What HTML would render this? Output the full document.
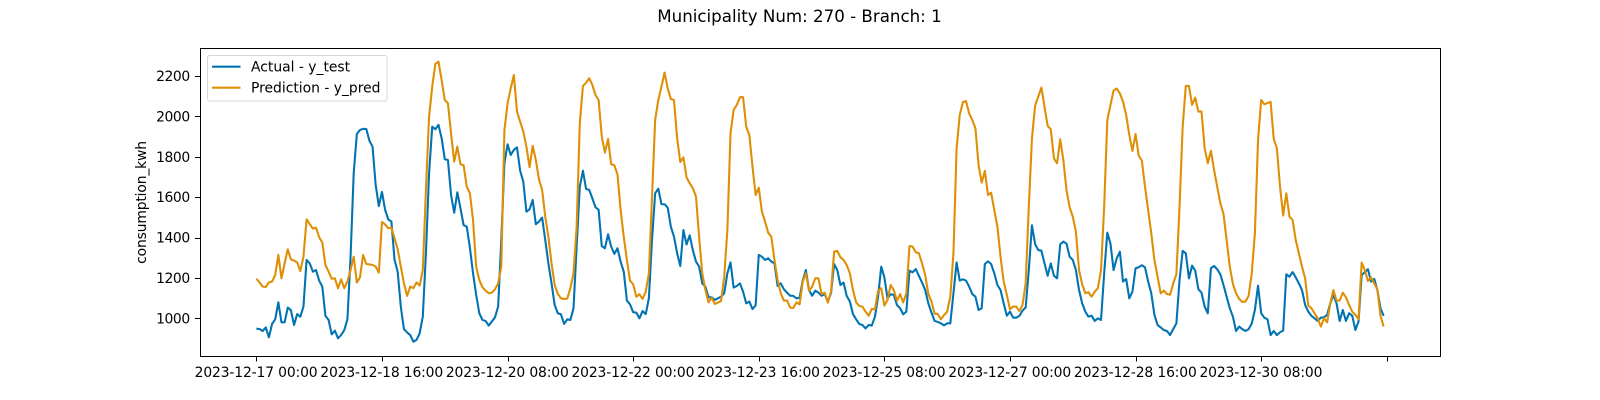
<!DOCTYPE html>
<html lang="en">
<head>
<meta charset="utf-8">
<title>Municipality Num: 270 - Branch: 1</title>
<style>
html,body{margin:0;padding:0;background:#fff;width:1600px;height:400px;overflow:hidden}
svg{display:block}
text{font-family:"DejaVu Sans","Liberation Sans",sans-serif;fill:#000}
</style>
</head>
<body>
<svg id="chart" xmlns="http://www.w3.org/2000/svg" width="1600" height="400" viewBox="0 0 1600 400">
  <rect x="0" y="0" width="1600" height="400" fill="#fff"/>
  <text x="799.5" y="22" font-size="16.67" text-anchor="middle">Municipality Num: 270 - Branch: 1</text>
  <g id="series-layer"></g>
  <rect x="200.5" y="48.5" width="1240" height="308" fill="none" stroke="#000" stroke-width="1" shape-rendering="crispEdges"/>
  <g id="x-axis"></g>
  <g id="y-axis"></g>
  <text x="0" y="0" font-size="13.89" letter-spacing="-0.15" text-anchor="middle" transform="translate(146 202.5) rotate(-90)">consumption_kwh</text>
  <g>
    <rect x="207.5" y="55.5" width="179.5" height="45.5" rx="2.5" ry="2.5" fill="#fff" fill-opacity="0.8" stroke="#ccc" stroke-opacity="0.8" stroke-width="1"/>
    <line x1="212" y1="66.7" x2="240.5" y2="66.7" stroke="#0173b2" stroke-width="2.08"/>
    <text x="251" y="71.5" font-size="13.89">Actual - y_test</text>
    <line x1="212" y1="87.7" x2="240.5" y2="87.7" stroke="#de8f05" stroke-width="2.08"/>
    <text x="251" y="92.5" font-size="13.89">Prediction - y_pred</text>
  </g>
</svg>
<script>
const actualValues = [
949,947,937,955,906,972,995,1079,980,980,
1053,1040,967,1021,1008,1058,1289,1272,1231,1239,
1187,1157,1012,992,921,939,901,917,942,995,
1305,1718,1913,1933,1938,1938,1880,1850,1660,1556,
1626,1537,1490,1479,1290,1231,1058,946,930,917,
884,893,926,1008,1322,1718,1949,1936,1958,1892,
1788,1784,1611,1523,1624,1545,1462,1454,1350,1223,
1116,1025,992,987,964,984,1005,1058,1388,1768,
1862,1809,1834,1847,1731,1677,1528,1540,1586,1466,
1479,1499,1388,1272,1173,1066,1025,1020,972,995,
992,1050,1355,1652,1731,1641,1636,1594,1550,1537,
1358,1347,1416,1355,1319,1347,1281,1231,1088,1069,
1030,1028,1000,1036,1021,1099,1388,1619,1642,1565,
1565,1548,1454,1404,1322,1259,1437,1366,1411,1338,
1281,1256,1173,1157,1104,1104,1091,1099,1107,1124,
1223,1277,1152,1160,1173,1132,1074,1083,1046,1064,
1314,1305,1289,1297,1281,1272,1160,1173,1144,1127,
1112,1111,1099,1102,1187,1239,1140,1112,1137,1127,
1112,1120,1083,1124,1269,1239,1165,1177,1111,1083,
1021,995,972,967,950,967,964,1008,1107,1256,
1203,1099,1119,1116,1066,1050,1020,1033,1236,1228,
1244,1210,1177,1140,1074,1028,987,982,975,965,
975,975,1124,1277,1187,1193,1187,1157,1120,1107,
1041,1050,1269,1282,1269,1223,1165,1140,1074,1013,
1033,1003,1003,1012,1038,1054,1239,1461,1368,1338,
1335,1272,1211,1272,1211,1198,1366,1380,1370,1305,
1289,1239,1140,1074,1033,1008,1013,987,1000,992,
1223,1424,1371,1239,1297,1330,1182,1195,1099,1132,
1248,1253,1263,1253,1182,1124,1017,967,955,942,
937,917,947,975,1190,1334,1322,1198,1261,1236,
1144,1127,1058,1025,1248,1259,1243,1218,1165,1107,
1050,1008,937,959,946,937,946,975,1041,1162,
1025,1003,995,917,937,917,931,939,1218,1206,
1229,1203,1173,1140,1066,1033,1012,1000,987,1003,
1005,1017,1074,1116,1074,987,1041,987,1025,1013,
942,984,1215,1228,1243,1182,1195,1140,1050,1012
];
const predictionValues = [
1196,1178,1157,1155,1178,1182,1215,1314,1198,1272,
1342,1292,1286,1277,1234,1305,1490,1467,1444,1449,
1401,1376,1264,1231,1196,1198,1149,1193,1149,1182,
1239,1305,1177,1203,1314,1269,1267,1264,1256,1226,
1477,1465,1446,1449,1396,1343,1256,1173,1111,1157,
1149,1178,1162,1239,1636,1999,2147,2260,2271,2180,
2081,2065,1916,1776,1850,1763,1758,1652,1619,1487,
1256,1190,1154,1137,1124,1127,1144,1173,1256,1933,
2065,2139,2205,2024,1974,1925,1850,1748,1854,1784,
1688,1636,1504,1404,1272,1165,1121,1099,1096,1097,
1149,1223,1454,1966,2151,2167,2189,2156,2106,2081,
1900,1821,1888,1763,1758,1713,1537,1404,1289,1187,
1168,1107,1119,1096,1132,1223,1600,1982,2081,2147,
2217,2139,2086,2081,1892,1774,1797,1698,1669,1644,
1603,1404,1223,1140,1079,1102,1071,1078,1086,1206,
1437,1916,2032,2057,2095,2095,1949,1908,1751,1611,
1647,1528,1479,1424,1404,1289,1190,1124,1088,1088,
1053,1051,1079,1069,1182,1223,1137,1157,1198,1198,
1120,1127,1078,1132,1330,1334,1302,1289,1264,1223,
1140,1079,1061,1058,1033,1013,1046,1045,1137,1149,
1063,1091,1165,1140,1086,1120,1078,1124,1358,1355,
1327,1322,1272,1215,1120,1083,1023,1021,995,1016,
1033,1107,1322,1842,2007,2070,2076,2015,1982,1941,
1759,1672,1730,1611,1622,1537,1454,1305,1182,1116,
1045,1058,1058,1036,1066,1173,1553,1892,2053,2098,
2143,2048,1953,1936,1792,1768,1887,1784,1636,1550,
1504,1429,1239,1168,1124,1129,1107,1132,1149,1239,
1553,1982,2057,2128,2138,2114,2073,2007,1908,1829,
1913,1806,1781,1652,1537,1421,1289,1206,1124,1137,
1120,1117,1173,1218,1553,1949,2151,2151,2057,2093,
2024,2024,1842,1768,1830,1735,1652,1570,1517,1388,
1256,1170,1124,1096,1081,1083,1111,1223,1421,1883,
2081,2060,2066,2072,1888,1842,1652,1509,1619,1504,
1487,1388,1322,1256,1198,1063,1050,1025,1000,959,
1000,980,1074,1140,1088,1088,1127,1104,1066,1033,
1017,995,1276,1239,1185,1203,1173,1144,1012,959
];
const xTickHours = [0,40,80,120,160,200,240,280,320,360];
const xTickLabels = ["2023-12-17 00:00","2023-12-18 16:00","2023-12-20 08:00","2023-12-22 00:00","2023-12-23 16:00","2023-12-25 08:00","2023-12-27 00:00","2023-12-28 16:00","2023-12-30 08:00",""];
const yTickValues = [1000,1200,1400,1600,1800,2000,2200];

const NS = 'http://www.w3.org/2000/svg';
const plot = {left:200, right:1440, top:48, bottom:356};

const yDomain = [813.3, 2338.8];
const xDomain = [-17.95, Math.max(actualValues.length, predictionValues.length) - 1 + 17.95];

function xScale(h) {
  return plot.left + (h - xDomain[0]) / (xDomain[1] - xDomain[0]) * (plot.right - plot.left);
}
function yScale(v) {
  return plot.bottom - (v - yDomain[0]) / (yDomain[1] - yDomain[0]) * (plot.bottom - plot.top);
}
function linePoints(values) {
  return values.map(function (v, i) {
    return xScale(i).toFixed(2) + ',' + yScale(v).toFixed(2);
  }).join(' ');
}
function make(tag, attrs) {
  const el = document.createElementNS(NS, tag);
  Object.keys(attrs).forEach(function (k) { el.setAttribute(k, attrs[k]); });
  return el;
}

const seriesLayer = document.getElementById('series-layer');
const actualLine = make('polyline', {points: linePoints(actualValues), fill: 'none', stroke: '#0173b2', 'stroke-width': 2.08, 'stroke-linejoin': 'round'});


seriesLayer.appendChild(actualLine);
const predictionLine = make('polyline', {points: linePoints(predictionValues), fill: 'none', stroke: '#de8f05', 'stroke-width': 2.08, 'stroke-linejoin': 'round'});


seriesLayer.appendChild(predictionLine);

const xAxis = document.getElementById('x-axis');
xTickHours.forEach(function (h, i) {
  const px = Math.round(xScale(h)) + 0.5;
  const tick = make('line', {x1: px, x2: px, y1: plot.bottom, y2: plot.bottom + 5.4, stroke: '#000', 'stroke-width': 1, 'shape-rendering': 'crispEdges'});
  
  
  xAxis.appendChild(tick);
  if (xTickLabels[i]) {
    const label = make('text', {x: xScale(h) - 0.3, y: 377, 'font-size': 13.89, 'letter-spacing': -0.14, 'text-anchor': 'middle'});
    
    
    label.textContent = xTickLabels[i];
    xAxis.appendChild(label);
  }
});

const yAxis = document.getElementById('y-axis');
yTickValues.forEach(function (v) {
  const py = Math.round(yScale(v)) + 0.5;
  const tick = make('line', {x1: plot.left - 4.9, x2: plot.left, y1: py, y2: py, stroke: '#000', 'stroke-width': 1, 'shape-rendering': 'crispEdges'});
  
  
  yAxis.appendChild(tick);
  const label = make('text', {x: 189.8, y: yScale(v) + 5, 'font-size': 13.89, 'letter-spacing': -0.4, 'text-anchor': 'end'});
  
  
  label.textContent = String(v);
  yAxis.appendChild(label);
});
</script>
</body>
</html>
